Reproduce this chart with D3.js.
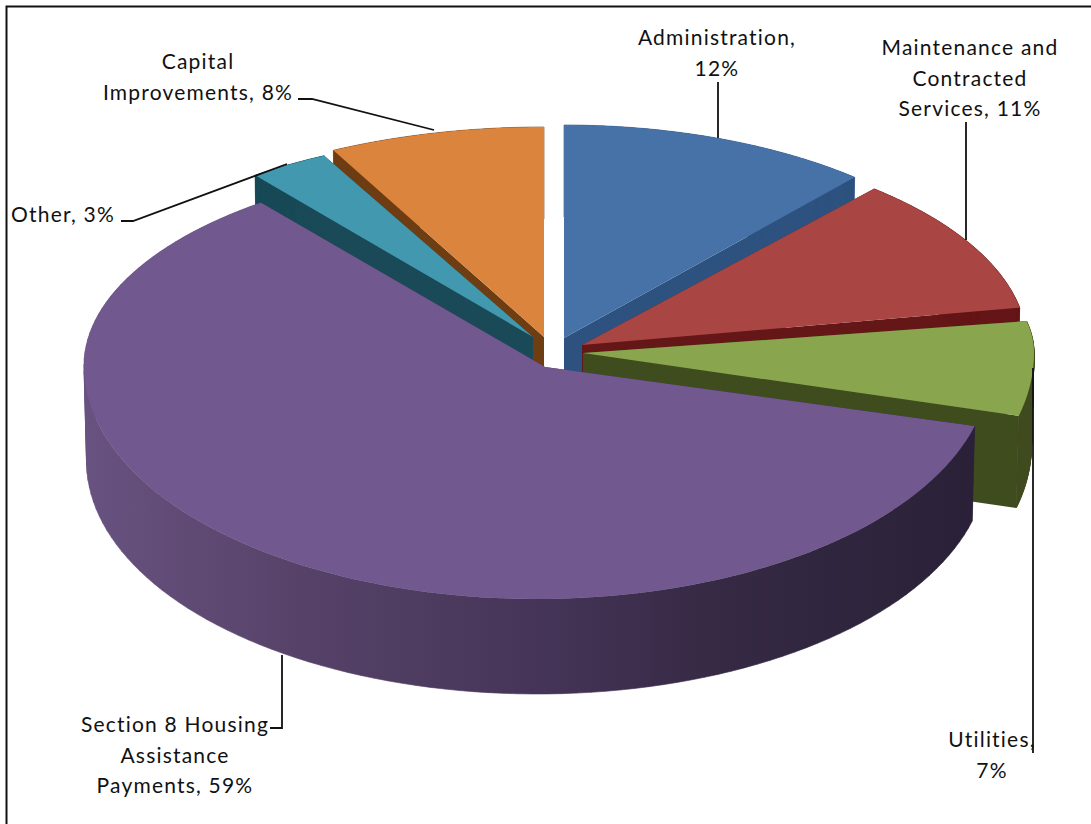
<!DOCTYPE html>
<html>
<head>
<meta charset="utf-8">
<script src="https://cdn.jsdelivr.net/npm/d3@7"></script>
<style>
  html, body { margin: 0; padding: 0; background: #fff; }
  svg { display: block; }
  text { font-family: Lato, "Open Sans", sans-serif; fill: #111; }
</style>
</head>
<body>
<div id="chart"></div>
<script>
// Budget shares, clockwise from twelve o'clock
const categories = [
  "Administration",
  "Maintenance and Contracted Services",
  "Utilities",
  "Section 8 Housing Assistance Payments",
  "Other",
  "Capital Improvements"
];
const shares = [12, 11, 7, 59, 3, 8];

// Label text, broken into the lines it is set on
const labelLines = [
  ["Administration,", "12%"],
  ["Maintenance and", "Contracted", "Services, 11%"],
  ["Utilities,", "7%"],
  ["Section 8 Housing", "Assistance", "Payments, 59%"],
  ["Other, 3%"],
  ["Capital", "Improvements, 8%"]
];

// Excel-style palette: top face and the darker side face of each wedge
const topColors  = ["#4672a8", "#a94543", "#89a54e", "#71588f", "#4198af", "#db843d"];
const sideColors = ["#2d527f", "#651617", "#3f4c1e", "url(#purpleWall)", "#1a4a58", "#6e3d12"];

// Each exploded wedge has its own apex and ellipse on screen
const wedgeGeometry = [
  { apex: [564, 338], centre: [564, 338], rx: 443, ryTop: 213, ryBottom: 213, depth: 92 },
  { apex: [582, 345], centre: [582, 345], rx: 445, ryTop: 207, ryBottom: 207, depth: 92 },
  { apex: [583, 353], centre: [583, 353], rx: 451, ryTop: 177, ryBottom: 244, depth: 92 },
  { apex: [545, 367], centre: [537, 366], rx: 453, ryTop: 206, ryBottom: 233, depth: 95 },
  { apex: [533, 337], centre: [533, 337], rx: 456, ryTop: 204, ryBottom: 204, depth: 92 },
  { apex: [544, 337], centre: [544, 337], rx: 460, ryTop: 210, ryBottom: 210, depth: 92 }
];

// Label placement: anchor x and the baseline of the first line
const labelAnchors = [[717, 45], [970, 55], [992, 747], [175, 732], [63, 222], [198, 69]];
const leaderPaths = [
  [[718, 82], [718, 138]],
  [[966, 122], [966, 240]],
  [[1033, 368], [1033, 753]],
  [[282, 655], [282, 728], [270, 728]],
  [[121, 221], [133, 221], [287, 164]],
  [[298, 99], [312, 99], [434, 130]]
];

const width = 1091, height = 824;
const lineGap = 30.5;
const bottomTaper = 2.5;       // lower rim sits slightly inside the upper rim
const viewWarp = 0.056;        // foreshortening of angles under the tilted view

const svg = d3.select("#chart").append("svg")
  .attr("width", width).attr("height", height);

const wallGradient = svg.append("defs").append("linearGradient")
  .attr("id", "purpleWall")
  .attr("gradientUnits", "userSpaceOnUse")
  .attr("x1", 84).attr("x2", 972).attr("y1", 0).attr("y2", 0);
[[0, "#685280"], [0.25, "#564268"], [0.5, "#463559"], [0.72, "#352943"], [1, "#2a2138"]]
  .forEach(([o, c]) => wallGradient.append("stop").attr("offset", o).attr("stop-color", c));

// Frame: only the top and left rules are drawn
svg.append("path")
  .attr("d", d3.line()([[6.5, height], [6.5, 6.5], [width, 6.5]]))
  .attr("fill", "none").attr("stroke", "#111").attr("stroke-width", 2);

const arcs = d3.pie().value(d => d).sort(null)(shares);

function project(geo, angle, drop) {
  const a = angle - viewWarp * Math.sin(angle);
  const s = Math.sin(a), c = Math.cos(a);
  const rx = drop ? geo.rx - bottomTaper : geo.rx;
  return [
    geo.centre[0] + rx * s,
    geo.centre[1] - c * (c > 0 ? geo.ryTop : geo.ryBottom) + drop
  ];
}

function rim(geo, start, end, drop) {
  const sweep = d3.scaleLinear().domain([0, 120]).range([start, end]);
  return d3.range(121).map(i => project(geo, sweep(i), drop));
}

const closed = d3.line().curve(d3.curveLinearClosed);

// The outer wall is the area swept by a vertical edge along the rim, laid
// down as one quad per step. Every quad is wound the same way, so overlaps
// past the ellipse's side extremes still fill under the nonzero rule.
function wallPath(geo, start, end) {
  const upper = rim(geo, start, end, 0);
  const lower = rim(geo, start, end, geo.depth);
  return d3.pairs(d3.range(upper.length))
    .map(([a, b]) => {
      const quad = [upper[a], upper[b], lower[b], lower[a]];
      return closed(d3.polygonArea(quad) < 0 ? quad.reverse() : quad);
    })
    .join("");
}

// Back wedges first so that the nearer ones overlap them
const paintOrder = [0, 5, 4, 1, 2, 3];

const wedges = svg.append("g").selectAll("g")
  .data(paintOrder.map(i => ({ i, arc: arcs[i], geo: wedgeGeometry[i] })))
  .join("g")
  .attr("data-category", d => categories[d.i]);

wedges.each(function (d) {
  const g = d3.select(this);
  const { geo, arc } = d;
  const apexLow = [geo.apex[0], geo.apex[1] + geo.depth];
  const side = sideColors[d.i];
  [arc.startAngle, arc.endAngle].forEach(angle => {
    g.append("path")
      .attr("d", closed([geo.apex, project(geo, angle, 0), project(geo, angle, geo.depth), apexLow]))
      .attr("fill", side);
  });
  g.append("path")
    .attr("d", wallPath(geo, arc.startAngle, arc.endAngle))
    .attr("fill", side)
    .attr("stroke", side)
    .attr("stroke-width", 0.6);
  g.append("path")
    .attr("d", closed([geo.apex].concat(rim(geo, arc.startAngle, arc.endAngle, 0))))
    .attr("fill", topColors[d.i]);
});

// Leader lines
svg.append("g").selectAll("path")
  .data(leaderPaths)
  .join("path")
  .attr("d", d3.line())
  .attr("fill", "none")
  .attr("stroke", "#111")
  .attr("stroke-width", 1.8);

// Labels
svg.append("g").selectAll("text")
  .data(labelLines)
  .join("text")
  .attr("text-anchor", "middle")
  .attr("font-size", 21)
  .attr("letter-spacing", 1.2)
  .each(function (lines, i) {
    d3.select(this).selectAll("tspan")
      .data(lines)
      .join("tspan")
      .attr("x", labelAnchors[i][0])
      .attr("y", (l, k) => labelAnchors[i][1] + k * lineGap)
      .text(l => l);
  });
</script>
</body>
</html>
